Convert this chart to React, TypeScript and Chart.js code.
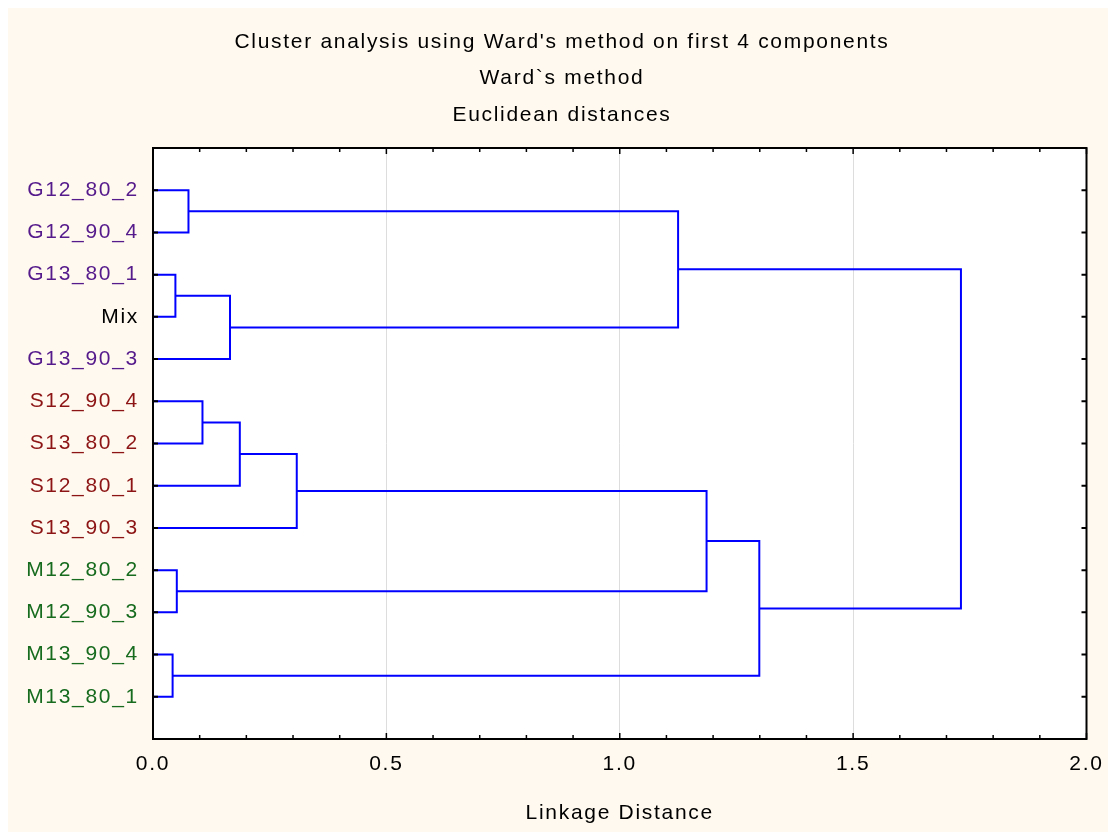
import React, { useEffect, useRef } from 'react';
import { Chart, registerables } from 'chart.js';

Chart.register(...registerables);

// Leaves, top to bottom
const leafLabels = [
  'G12_80_2', 'G12_90_4', 'G13_80_1', 'Mix', 'G13_90_3',
  'S12_90_4', 'S13_80_2', 'S12_80_1', 'S13_90_3',
  'M12_80_2', 'M12_90_3', 'M13_90_4', 'M13_80_1',
];
const leafColors = [
  '#551A8B', '#551A8B', '#551A8B', '#000000', '#551A8B',
  '#8C1414', '#8C1414', '#8C1414', '#8C1414',
  '#166B1E', '#166B1E', '#166B1E', '#166B1E',
];

// Ward linkage: nodes 0..12 are leaves, merge k creates node 13 + k
const mergeLeft = [0, 2, 14, 13, 5, 17, 18, 9, 11, 19, 22, 16];
const mergeRight = [1, 3, 4, 15, 6, 7, 8, 10, 12, 20, 21, 23];
const mergeHeight = [0.076, 0.048, 0.165, 1.125, 0.106, 0.186, 0.308, 0.051, 0.042, 1.186, 1.299, 1.731];

const xTicks = [0, 0.5, 1.0, 1.5, 2.0];
const titleLines = [
  "Cluster analysis using Ward's method on first 4 components",
  'Ward`s method',
  'Euclidean distances',
];
const xAxisTitle = 'Linkage Distance';

const FONT = '"Liberation Sans", Arial, sans-serif';
const CREAM = '#FFF9EF';
const LINK_COLOR = '#0000FF';
const SPACING = '1.7px';

function buildLinks() {
  const nodeX: number[] = leafLabels.map(() => 0);
  const nodeY: number[] = leafLabels.map((_, i) => i + 1);
  return mergeLeft.map((l, k) => {
    const r = mergeRight[k];
    const h = mergeHeight[k];
    const pts = [
      { x: nodeX[l], y: nodeY[l] },
      { x: h, y: nodeY[l] },
      { x: h, y: nodeY[r] },
      { x: nodeX[r], y: nodeY[r] },
    ];
    nodeX.push(h);
    nodeY.push((nodeY[l] + nodeY[r]) / 2);
    return pts;
  });
}

const framePlugin = {
  id: 'plotFrame',
  beforeLayout(chart: any) {
    chart.ctx.letterSpacing = SPACING;
  },
  beforeDraw(chart: any) {
    const { ctx, chartArea: a, width, height } = chart;
    ctx.letterSpacing = SPACING;
    ctx.save();
    ctx.fillStyle = CREAM;
    ctx.fillRect(0, 0, width, height);
    ctx.fillStyle = '#FFFFFF';
    ctx.fillRect(a.left, a.top, a.right - a.left, a.bottom - a.top);
    ctx.restore();
  },
  afterDatasetsDraw(chart: any) {
    const { ctx, chartArea: a } = chart;
    const xs = chart.scales.x;
    const ys = chart.scales.y;
    ctx.save();
    ctx.strokeStyle = '#000000';
    ctx.lineCap = 'butt';
    // ticks every 0.1 along top and bottom, pointing inward
    ctx.lineWidth = 1.5;
    for (let i = 0; i <= 20; i++) {
      const px = xs.getPixelForValue(i / 10);
      const len = i % 5 === 0 ? 6 : 4;
      ctx.beginPath();
      ctx.moveTo(px, a.top);
      ctx.lineTo(px, a.top + len);
      ctx.moveTo(px, a.bottom);
      ctx.lineTo(px, a.bottom - len);
      ctx.stroke();
    }
    // leaf ticks on left and right, pointing inward
    ctx.lineWidth = 2;
    leafLabels.forEach((_, i) => {
      const py = ys.getPixelForValue(i + 1);
      ctx.beginPath();
      ctx.moveTo(a.left, py);
      ctx.lineTo(a.left + 5, py);
      ctx.moveTo(a.right, py);
      ctx.lineTo(a.right - 5, py);
      ctx.stroke();
    });
    // frame
    ctx.lineJoin = 'miter';
    ctx.strokeRect(a.left, a.top, a.right - a.left, a.bottom - a.top);
    ctx.restore();
  },
};

export default function App() {
  const canvasRef = useRef<HTMLCanvasElement | null>(null);

  useEffect(() => {
    document.body.style.margin = '8px 0 0 8px';
    document.documentElement.style.overflow = 'hidden';
    const canvas = canvasRef.current;
    if (!canvas) return;
    const links = buildLinks();
    const chart = new Chart(canvas, {
      type: 'scatter',
      data: {
        datasets: links.map((pts) => ({
          data: pts,
          showLine: true,
          borderColor: LINK_COLOR,
          backgroundColor: LINK_COLOR,
          borderWidth: 2,
          pointRadius: 0,
          pointHoverRadius: 0,
          tension: 0,
          borderJoinStyle: 'miter' as const,
          borderCapStyle: 'butt' as const,
        })),
      },
      options: {
        responsive: false,
        animation: false,
        devicePixelRatio: 1,
        events: [],
        layout: { padding: { left: 8, right: 0, top: 0, bottom: 0 } },
        font: { family: FONT, size: 21 },
        plugins: {
          legend: { display: false },
          tooltip: { enabled: false },
          title: {
            display: true,
            text: titleLines,
            color: '#000000',
            font: { family: FONT, size: 21, weight: 'normal', lineHeight: '36.5px' },
            padding: { top: 15.75, bottom: 14.75 },
          },
        },
        scales: {
          x: {
            type: 'linear',
            position: 'bottom',
            min: 0,
            max: 2,
            afterFit: (s: any) => {
              s.height = 93;
              s.paddingLeft = 0;
              s.paddingRight = 0;
            },
            afterBuildTicks: (s: any) => { s.ticks = xTicks.map((v) => ({ value: v })); },
            border: { display: false },
            grid: {
              drawTicks: false,
              lineWidth: 1,
              color: (c: any) => (c.tick && (c.tick.value === 0 || c.tick.value === 2) ? 'rgba(0,0,0,0)' : '#DDDDDD'),
            },
            ticks: {
              autoSkip: false,
              maxRotation: 0,
              padding: 12.4,
              color: '#000000',
              font: { family: FONT, size: 21 },
              callback: (v: any) => Number(v).toFixed(1),
            },
            title: {
              display: true,
              text: xAxisTitle,
              color: '#000000',
              font: { family: FONT, size: 21 },
              padding: { top: 0, bottom: 6.4 },
            },
          },
          y: {
            type: 'linear',
            position: 'left',
            min: 0,
            max: leafLabels.length + 1,
            reverse: true,
            afterFit: (s: any) => {
              s.width = 137;
              s.paddingTop = 0;
              s.paddingBottom = 0;
            },
            afterBuildTicks: (s: any) => { s.ticks = leafLabels.map((_, i) => ({ value: i + 1 })); },
            border: { display: false },
            grid: { display: false, drawTicks: false },
            ticks: {
              autoSkip: false,
              padding: 14,
              color: (c: any) => leafColors[(c.tick ? c.tick.value : c.index + 1) - 1] || '#000000',
              font: { family: FONT, size: 21 },
              callback: (v: any) => leafLabels[Number(v) - 1] ?? '',
            },
          },
          // empty right-hand margin strip
          yRight: {
            type: 'linear',
            position: 'right',
            min: 0,
            max: leafLabels.length + 1,
            afterFit: (s: any) => { s.width = 21.5; },
            border: { display: false },
            grid: { display: false, drawTicks: false },
            ticks: { display: false },
          },
        },
      },
      plugins: [framePlugin],
    } as any);
    return () => chart.destroy();
  }, []);

  return (
    <canvas ref={canvasRef} width={1100} height={824} style={{ display: 'block', width: 1100, height: 824 }} />
  );
}
